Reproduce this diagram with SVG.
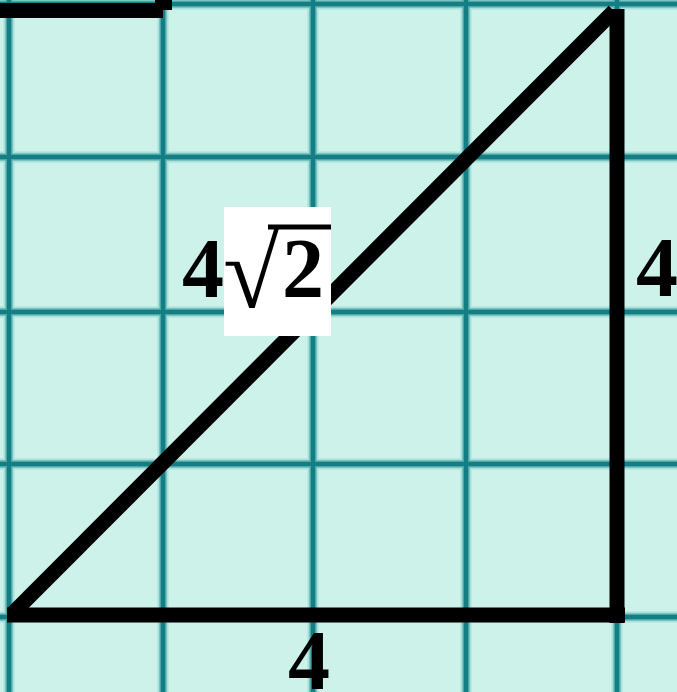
<svg xmlns="http://www.w3.org/2000/svg" width="677" height="692" viewBox="0 0 677 692">
<style>
.g0{stroke:#a9e0da;stroke-width:11;fill:none}
.g1{stroke:#4fa6a8;stroke-width:7;fill:none}
.g2{stroke:#137e84;stroke-width:4;fill:none}
.k{stroke:#000;stroke-width:15;fill:none;stroke-linecap:butt}
.t{font-family:"Liberation Serif","Times New Roman",serif;font-weight:bold;font-size:84px;fill:#000}
</style>
<defs>
<path id="gl" d="M9 0V692M163 0V692M313 0V692M466 0V692M617 0V692M0 4H677M0 157H677M0 312H677M0 464H677M0 617H677"/>
</defs>
<rect width="677" height="692" fill="#ccf2ea"/>
<g id="grid">
<use href="#gl" class="g0"/>
<use href="#gl" class="g1"/>
<use href="#gl" class="g2"/>
</g>
<g id="connectors">
<path d="M0 3H163V18H0Z M155 0H172V10H155Z" fill="#000"/>
<line class="k" x1="12" y1="614" x2="614" y2="11"/>
<line class="k" x1="617" y1="9" x2="617" y2="623"/>
<line class="k" x1="7" y1="615" x2="625" y2="615"/>
</g>
<g id="label-hyp">
<rect x="224" y="207" width="107" height="129" fill="#fff"/>
<text class="t" x="182" y="297">4</text>
<text x="223" y="307" font-family="Liberation Serif, serif" font-size="104" fill="#000">√</text>
<line x1="268" y1="227" x2="331" y2="227" stroke="#000" stroke-width="5"/>
<text class="t" x="282" y="297">2</text>
</g>
<g id="label-right"><text class="t" x="636" y="296">4</text></g>
<g id="label-bottom"><text class="t" x="288" y="689">4</text></g>
</svg>
